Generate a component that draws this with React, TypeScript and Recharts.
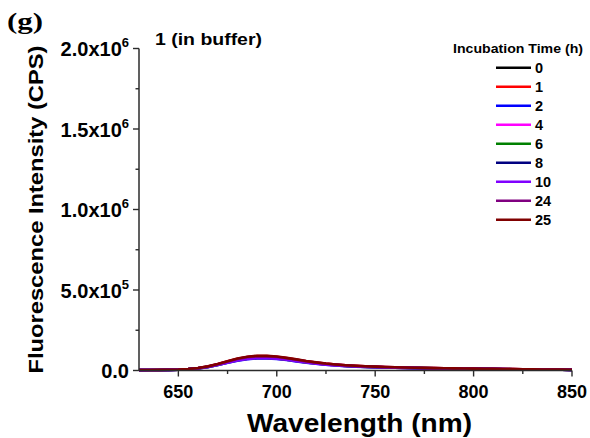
import { LineChart, Line, XAxis, YAxis, Legend, Label } from 'recharts';

// emission spectra, 630-850 nm every 5 nm
const wavelengths = [
  630, 635, 640, 645, 650, 655, 660, 665, 670, 675, 680, 685, 690, 695, 700, 705, 710, 715, 720, 725, 730, 735, 740,
  745, 750, 755, 760, 765, 770, 775, 780, 785, 790, 795, 800, 805, 810, 815, 820, 825, 830, 835, 840, 845, 850,
];

const h0 = [
  2800, 3100, 3300, 4000, 5500, 8600, 14100, 23600, 37500, 53300, 68200, 78900, 84300, 83700, 79800, 72400, 63600,
  54300, 46600, 40000, 34800, 30400, 27100, 24300, 22400, 20400, 18900, 17400, 16200, 15000, 14000, 13100, 12200,
  11600, 11000, 10200, 9500, 8700, 8200, 7500, 6800, 6100, 5500, 4800, 4000,
];
const h1 = [
  3000, 3100, 3500, 4200, 5700, 9000, 15100, 25100, 40000, 56800, 72700, 84100, 89800, 89100, 84900, 77100, 67700,
  57700, 49600, 42600, 37000, 32300, 28800, 25800, 23800, 21700, 20000, 18500, 17200, 15900, 14800, 14000, 12900,
  12200, 11600, 10800, 10000, 9300, 8600, 7900, 7200, 6400, 5900, 5100, 4300,
];
const h2 = [
  2600, 2800, 3000, 3700, 5000, 7700, 12600, 21100, 33600, 47800, 61200, 70700, 75500, 75000, 71400, 64800, 56900,
  48600, 41700, 35800, 31100, 27300, 24300, 21800, 20100, 18300, 16900, 15600, 14500, 13400, 12500, 11700, 11000,
  10300, 9800, 9100, 8500, 7800, 7300, 6700, 6100, 5400, 5900, 4200, 3600,
];
const h4 = [
  2700, 3000, 3200, 3900, 5300, 8200, 13500, 22500, 35800, 50900, 65200, 75300, 80400, 79900, 76100, 69100, 60700,
  51800, 44400, 38200, 33200, 29000, 25900, 23200, 21400, 19500, 18000, 16600, 15400, 14300, 13300, 12500, 11700,
  11000, 10400, 9700, 9000, 8300, 7800, 7100, 6400, 5800, 5200, 4500, 3800,
];
const h6 = [
  2700, 2900, 3200, 3800, 5200, 8000, 13100, 21900, 34900, 49600, 63500, 73400, 78400, 77900, 74200, 67300, 59100,
  50500, 43300, 37200, 32300, 28300, 25200, 22600, 20900, 19000, 17500, 16200, 15000, 13900, 13000, 12200, 11400,
  10700, 10100, 9400, 8800, 8100, 7600, 6900, 6300, 5600, 5100, 4400, 3800,
];
const h8 = [
  2800, 3000, 3300, 3900, 5400, 8400, 13800, 23000, 36600, 52100, 66700, 77100, 82300, 81800, 77900, 70700, 62100,
  53000, 45500, 39100, 34000, 29700, 26500, 23700, 21900, 19900, 18400, 17000, 15800, 14600, 13600, 12800, 11900,
  11300, 10700, 9900, 9300, 8500, 8000, 7300, 6600, 5900, 5400, 4600, 3900,
];
const h10 = [
  2600, 2800, 3100, 3700, 5100, 7900, 12900, 21600, 34400, 48900, 62700, 72400, 77300, 76800, 73100, 66400, 58300,
  49800, 42700, 36700, 31900, 27900, 24900, 22300, 20600, 18700, 17300, 16000, 14800, 13700, 12800, 12000, 11200,
  10600, 10000, 9300, 8700, 8000, 7500, 6800, 6200, 5600, 5000, 4300, 3700,
];
const h24 = [
  2900, 3200, 3400, 4100, 5600, 8800, 14600, 24700, 39400, 55900, 71600, 82900, 88300, 87800, 83600, 75900, 66600,
  56900, 48800, 41900, 36400, 31900, 28400, 25400, 23500, 21300, 19800, 18200, 16900, 15700, 14600, 13700, 12800,
  12100, 11400, 10600, 9900, 9200, 8500, 7800, 7000, 6400, 5700, 5000, 4100,
];
const h25 = [
  3100, 2900, 3600, 4300, 5800, 9200, 15400, 25600, 40800, 57900, 74100, 85800, 91600, 90700, 86500, 78400, 68900,
  58600, 50400, 43200, 37500, 32800, 29300, 26100, 24200, 22000, 20300, 18800, 17400, 16100, 15000, 14200, 13100,
  12400, 11800, 10900, 10200, 9400, 8800, 8100, 7300, 6500, 6000, 5200, 4400,
];

const xTicks = [650, 675, 700, 725, 750, 775, 800, 825, 850];
const yTicks = [0, 250000, 500000, 750000, 1000000, 1250000, 1500000, 1750000, 2000000];

const series = [
  { key: 'h0', name: '0', color: '#000000', values: h0 },
  { key: 'h1', name: '1', color: '#ff0000', values: h1 },
  { key: 'h2', name: '2', color: '#0000ff', values: h2 },
  { key: 'h4', name: '4', color: '#ff00ff', values: h4 },
  { key: 'h6', name: '6', color: '#008000', values: h6 },
  { key: 'h8', name: '8', color: '#000080', values: h8 },
  { key: 'h10', name: '10', color: '#8000ff', values: h10 },
  { key: 'h24', name: '24', color: '#800080', values: h24 },
  { key: 'h25', name: '25', color: '#800000', values: h25 },
];

const data = wavelengths.map((w, i) => {
  const row: Record<string, number> = { w };
  series.forEach((s) => (row[s.key] = s.values[i]));
  return row;
});

const FONT = '"Liberation Sans", Arial, sans-serif';
const AXIS = '#2b2b2b';

const XTick = ({ x, y, payload }: any) => {
  const major = payload.value % 50 === 0;
  return (
    <g>
      <line x1={x} x2={x} y1={y} y2={y + (major ? 6 : 3.5)} stroke={AXIS} strokeWidth={1.4} />
      {major && (
        <text x={x} y={y + 27.5} textAnchor="middle" fontFamily={FONT} fontWeight="bold" fontSize={18} fill="#000">
          {payload.value}
        </text>
      )}
    </g>
  );
};

const YTick = ({ x, y, payload }: any) => {
  const v = payload.value;
  const major = v % 500000 === 0;
  let mant = '';
  let exp = '';
  if (v === 0) mant = '0.0';
  else if (v < 1000000) {
    mant = (v / 100000).toFixed(1) + 'x10';
    exp = '5';
  } else {
    mant = (v / 1000000).toFixed(1) + 'x10';
    exp = '6';
  }
  return (
    <g>
      <line x1={x} x2={x - (major ? 6 : 3.5)} y1={y} y2={y} stroke={AXIS} strokeWidth={1.4} />
      {major && (
        <text x={x - 10} y={y + 7.5} textAnchor="end" fontFamily={FONT} fontWeight="bold" fontSize={20} fill="#000">
          <tspan>{mant}</tspan>
          {exp && (
            <tspan dy={-9} fontSize={13}>
              {exp}
            </tspan>
          )}
        </text>
      )}
    </g>
  );
};

// legend keeps the series order (0, 1, 2, 4 ... 25)
const renderLegend = () => (
  <svg width={150} height={200}>
    <text x={78} y={23} textAnchor="middle" fontFamily={FONT} fontWeight="bold" fontSize={12.5} textLength={130} lengthAdjust="spacingAndGlyphs">
      Incubation Time (h)
    </text>
    {series.map((s, i) => {
      const cy = 37.7 + i * 19;
      return (
        <g key={s.key}>
          <line x1={56} x2={91} y1={cy} y2={cy} stroke={s.color} strokeWidth={2.6} />
          <text x={95} y={cy + 5} fontFamily={FONT} fontWeight="bold" fontSize={14.5} fill="#000">
            {s.name}
          </text>
        </g>
      );
    })}
  </svg>
);

export default function App() {
  return (
    <div style={{ position: 'absolute', left: 0, top: 0, width: 590, height: 438, background: '#fff' }}>
      <LineChart width={590} height={438} data={data} margin={{ top: 48.5, right: 18, bottom: 37.5, left: 39 }}>
        <XAxis
          dataKey="w"
          type="number"
          domain={[630, 850]}
          ticks={xTicks}
          allowDataOverflow
          height={30}
          tickSize={0}
          tickMargin={0}
          tickLine={false}
          tick={<XTick />}
          axisLine={{ stroke: AXIS, strokeWidth: 1.5 }}
        >
          <Label
            content={({ viewBox }: any) => (
              <text
                x={viewBox.x + viewBox.width / 2 + 4}
                y={432}
                textAnchor="middle"
                fontFamily={FONT}
                fontWeight="bold"
                fontSize={26}
                textLength={225}
                lengthAdjust="spacingAndGlyphs"
                fill="#000"
              >
                Wavelength (nm)
              </text>
            )}
          />
        </XAxis>
        <YAxis
          type="number"
          domain={[0, 2000000]}
          ticks={yTicks}
          width={100}
          tickSize={0}
          tickMargin={0}
          tickLine={false}
          tick={<YTick />}
          axisLine={{ stroke: AXIS, strokeWidth: 1.5 }}
        >
          <Label
            content={({ viewBox }: any) => {
              const cx = viewBox.x + 4;
              const cy = viewBox.y + viewBox.height / 2;
              return (
                <text
                  x={cx}
                  y={cy}
                  transform={`rotate(-90, ${cx}, ${cy})`}
                  textAnchor="middle"
                  fontFamily={FONT}
                  fontWeight="bold"
                  fontSize={21}
                  textLength={328}
                  lengthAdjust="spacingAndGlyphs"
                  fill="#000"
                >
                  Fluorescence Intensity (CPS)
                </text>
              );
            }}
          />
        </YAxis>
        <Legend
          layout="vertical"
          align="center"
          verticalAlign="middle"
          content={renderLegend}
          wrapperStyle={{ left: 440, top: 30, width: 150, height: 200 }}
        />
        {series.map((s) => (
          <Line
            key={s.key}
            dataKey={s.key}
            name={s.name}
            type="linear"
            stroke={s.color}
            strokeWidth={2.6}
            dot={false}
            isAnimationActive={false}
          />
        ))}
      </LineChart>
      <svg width={590} height={438} style={{ position: 'absolute', left: 0, top: 0, pointerEvents: 'none' }}>
        <text x={7} y={29} fontFamily='"Liberation Serif", "Times New Roman", serif' fontWeight="bold" fontSize={24} textLength={36} lengthAdjust="spacingAndGlyphs">
          (g)
        </text>
        <text x={155} y={45} fontFamily={FONT} fontWeight="bold" fontSize={17} textLength={107} lengthAdjust="spacingAndGlyphs">
          1 (in buffer)
        </text>
      </svg>
    </div>
  );
}
